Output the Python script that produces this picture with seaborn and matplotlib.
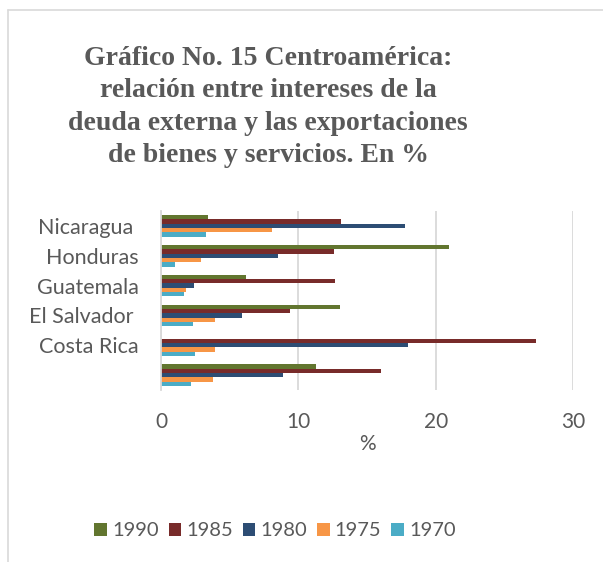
import numpy as np
import pandas as pd
import matplotlib
matplotlib.use("Agg")
import matplotlib.pyplot as plt
from matplotlib.lines import Line2D
from matplotlib.patches import Patch
import seaborn as sns

# Countries (the last row has no label in the source chart)
countries = ["Nicaragua ", "Honduras", "Guatemala", "El Salvador ", "Costa Rica", ""]
years = ["1990", "1985", "1980", "1975", "1970"]

# Interest on external debt as % of exports of goods and services
v1990 = [3.4, 21.0, 6.2, 13.0, 0.0, 11.3]
v1985 = [13.1, 12.6, 12.7, 9.4, 27.3, 16.0]
v1980 = [17.8, 8.5, 2.4, 5.9, 18.0, 8.9]
v1975 = [8.1, 2.9, 1.8, 3.9, 3.9, 3.8]
v1970 = [3.3, 1.0, 1.7, 2.3, 2.5, 2.2]

colors = ["#62762F", "#782B2A", "#2D4D74", "#F79646", "#4BACC6"]

series = [v1990, v1985, v1980, v1975, v1970]
rows = []
for yr, vals in zip(years, series):
    for c, v in zip(countries, vals):
        rows.append({"pais": c, "anio": yr, "valor": v})
df = pd.DataFrame(rows)

sns.set_theme(style="white")
plt.rcParams["font.family"] = ["Lato", "DejaVu Sans"]

grey_text = "#595959"
grid_col = "#D9D9D9"

fig = plt.figure(figsize=(6.03, 5.62), dpi=100)
ax = fig.add_axes([161 / 603, 1 - 390 / 562, (573 - 161) / 603, (390 - 211) / 562])

sns.barplot(data=df, y="pais", x="valor", hue="anio", order=countries,
            hue_order=years, palette=colors, orient="h", width=0.73,
            errorbar=None, ax=ax, legend=False, linewidth=0, saturation=1)

ax.set_xlim(0, 30)
ax.set_ylim(5.5, -0.5)
ax.set_xticks([0, 10, 20, 30])
ax.grid(axis="x", color=grid_col, linewidth=1.3)
ax.set_axisbelow(True)
for s in ["top", "right", "bottom"]:
    ax.spines[s].set_visible(False)
ax.spines["left"].set_color(grid_col)
ax.spines["left"].set_linewidth(1.3)
ax.tick_params(axis="both", length=0, colors=grey_text)
ax.tick_params(axis="x", pad=16, labelsize=15)
ax.tick_params(axis="y", pad=16, labelsize=15.5)
ax.set_ylabel("")
ax.set_xlabel("%", color=grey_text, fontsize=15, labelpad=1)

fig.text(268 / 603, 1 - 107 / 562,
         "Gráfico No. 15 Centroamérica:\nrelación entre intereses de la\n"
         "deuda externa y las exportaciones\nde bienes y servicios. En %",
         ha="center", va="center", fontsize=20, fontweight="bold",
         color=grey_text, family="Liberation Serif", linespacing=1.4)

handles = [Patch(facecolor=c, edgecolor="none") for c in colors]
fig.legend(handles, years, loc="center", bbox_to_anchor=(275 / 603, 1 - 531 / 562),
           ncol=5, frameon=False, fontsize=14.5, labelcolor=grey_text,
           handlelength=0.62, handleheight=0.62, handletextpad=0.25,
           columnspacing=0.5, borderpad=0, borderaxespad=0)

# chart area border
fig.add_artist(Line2D([8 / 603, 8 / 603], [0, 1 - 10 / 562], transform=fig.transFigure,
                      color=grid_col, linewidth=1.2))
fig.add_artist(Line2D([8 / 603, 1], [1 - 10 / 562, 1 - 10 / 562], transform=fig.transFigure,
                      color=grid_col, linewidth=1.2))

fig.savefig("out.png", dpi=100, facecolor="white")
